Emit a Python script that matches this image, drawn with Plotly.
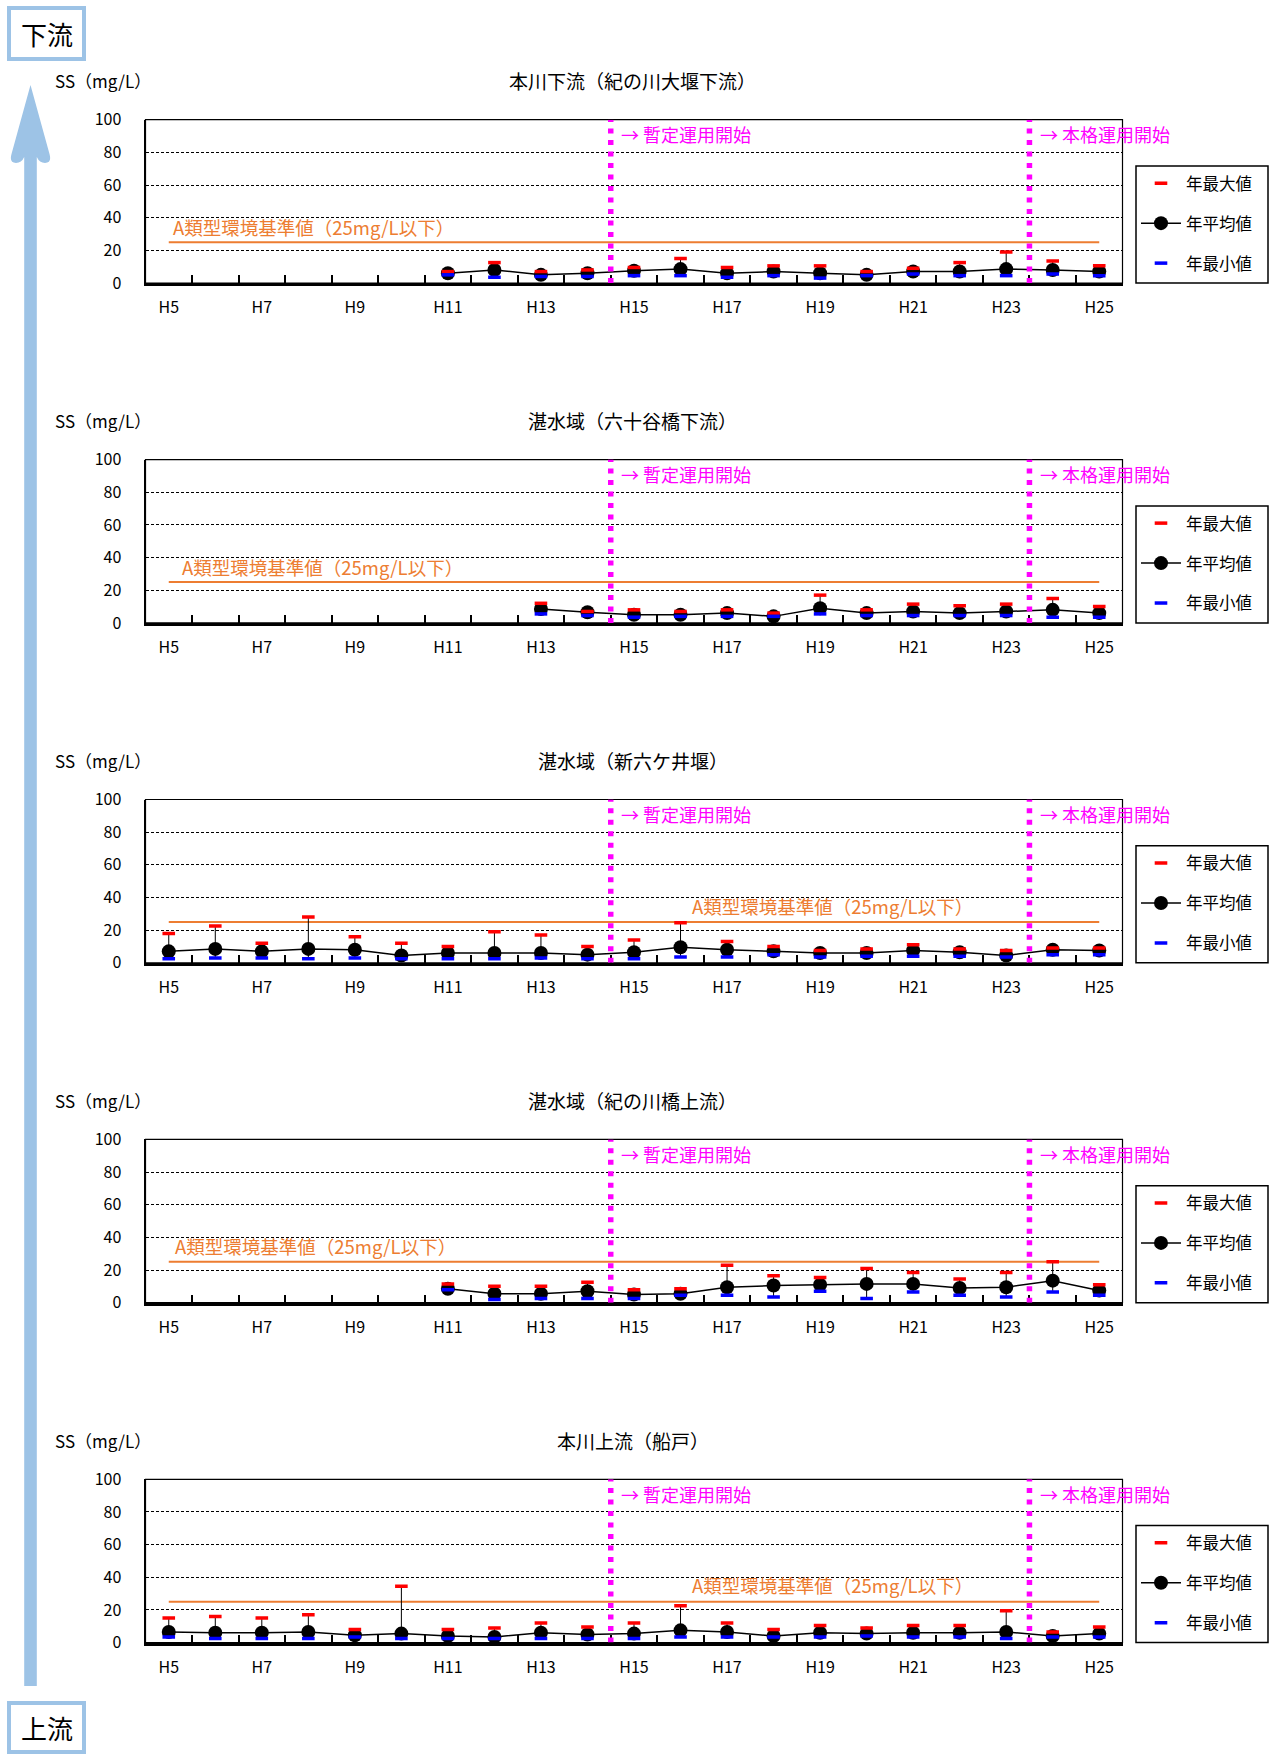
import plotly.graph_objects as go

# ---- data -------------------------------------------------------------
years = ["H5", "H6", "H7", "H8", "H9", "H10", "H11", "H12", "H13", "H14", "H15",
         "H16", "H17", "H18", "H19", "H20", "H21", "H22", "H23", "H24", "H25"]

site_titles = ["本川下流（紀の川大堰下流）", "湛水域（六十谷橋下流）", "湛水域（新六ケ井堰）",
               "湛水域（紀の川橋上流）", "本川上流（船戸）"]

# 本川下流（紀の川大堰下流）
weir_down_max = [None, None, None, None, None, None,
                 7, 12.5, 7, 8, 9.5, 15, 9.5, 10.5, 10.5, 7, 9, 12.5, 19, 13.5, 10.5]
weir_down_mean = [None, None, None, None, None, None,
                  6, 8, 5, 6, 7.5, 8.5, 6, 7, 6, 5, 7, 7, 8.5, 8, 7]
weir_down_min = [None, None, None, None, None, None,
                 5, 3.5, 4, 4, 4.5, 4.5, 3.5, 4.5, 3, 4.5, 5.5, 4.5, 4.5, 5.5, 4.5]

# 湛水域（六十谷橋下流）
musota_max = [None, None, None, None, None, None, None, None,
              12, 7, 8, 7, 8, 6, 17, 8, 11.5, 10.5, 11.5, 15, 10]
musota_mean = [None, None, None, None, None, None, None, None,
               8.5, 6.5, 5, 5, 6, 4, 9, 6, 7, 6, 7, 8, 6]
musota_min = [None, None, None, None, None, None, None, None,
              5.5, 4.5, 3.5, 4, 4, 4, 5.5, 4.5, 4.5, 4.5, 4.5, 3.5, 3.5]

# 湛水域（新六ケ井堰）
rokkai_max = [18, 22.5, 12, 28, 16, 12, 10, 19, 17, 10, 14,
              24.5, 13, 10, 7.5, 8.5, 11, 8.5, 7.5, 9, 9]
rokkai_mean = [7, 8.5, 7, 8.5, 8, 4.5, 6, 6, 6, 5, 6.5,
               9.5, 8, 7, 6, 6, 7.5, 6.5, 4.5, 8, 7.5]
rokkai_min = [2.5, 3, 3, 2.5, 3, 2.5, 2.5, 2.5, 3, 2.5, 2.5,
              3.5, 3.5, 5, 3.5, 4, 4, 4, 3.5, 5, 5]

# 湛水域（紀の川橋上流）
kinokawa_br_max = [None, None, None, None, None, None,
                   11.5, 10, 10, 12.5, 8, 8.5, 23, 16.5, 15.5, 21, 18.5, 14.5, 18.5, 25, 11]
kinokawa_br_mean = [None, None, None, None, None, None,
                    8.5, 5.5, 5.5, 7, 5, 5.5, 9.5, 10.5, 11, 11.5, 11.5, 9, 9.5, 13.5, 7.5]
kinokawa_br_min = [None, None, None, None, None, None,
                   8, 2, 2.5, 2.5, 2.5, 4.5, 4.5, 3.5, 7, 2.5, 6.5, 4.5, 3.5, 6.5, 4.5]

# 本川上流（船戸）
funato_max = [15, 16, 15, 17, 8, 34.5, 8, 9, 12, 9.5, 12,
              22.5, 12, 8, 10.5, 9, 10.5, 10.5, 19.5, 6.5, 9.5]
funato_mean = [6.5, 6, 6, 6.5, 4.5, 5.5, 4, 3.5, 6, 5, 5.5,
               7.5, 6.5, 4, 6, 5.5, 6, 6, 6.5, 4, 5.5]
funato_min = [3.5, 2.5, 2.5, 2.5, 3.5, 2.5, 2.5, 2.5, 2.5, 2.5, 2.5,
              3.5, 3.5, 3.5, 3.5, 4, 3.5, 3.5, 2.5, 3.5, 3.5]

standard_value = 25                 # A類型環境基準値 (mg/L)
standard_label = "A類型環境基準値（25mg/L以下）"
provisional_start = "H15"           # 暫定運用開始
full_start = "H24"                  # 本格運用開始
y_ticks = [0, 20, 40, 60, 80, 100]

series = [
    (weir_down_max, weir_down_mean, weir_down_min),
    (musota_max, musota_mean, musota_min),
    (rokkai_max, rokkai_mean, rokkai_min),
    (kinokawa_br_max, kinokawa_br_mean, kinokawa_br_min),
    (funato_max, funato_mean, funato_min),
]

# ---- layout geometry (pixels) -----------------------------------------
W, H = 1270, 1754
PLOT_L, PLOT_R = 145.5, 1122.5
PANEL_TOP0, PANEL_H, PITCH = 119.7, 163.3, 339.9
LEG_L, LEG_R, LEG_T, LEG_B = 1136, 1268, 166, 283
FONT = "Noto Sans CJK JP"
ORANGE = "#ED7D31"
MAGENTA = "#FF00FF"
LIGHT_BLUE = "#9DC3E6"


def px(x):
    return x / W


def py(y):
    return 1 - y / H


# label placement of the standard-value text for each panel (data coords)
label_pos = [(0.05, 34.5), (0.25, 34.5), (11.2, 34.5), (0.1, 35), (11.2, 35)]

xs = list(range(len(years)))
odd_idx = xs[::2]
boundaries = [i + 0.5 for i in xs[:-1]]
prov_x = years.index(provisional_start) - 0.5
full_x = years.index(full_start) - 0.5

fig = go.Figure()
annotations = []
shapes = []
layout = {}

for k, (title, (vmax, vmean, vmin)) in enumerate(zip(site_titles, series)):
    sfx = "" if k == 0 else str(k + 1)
    xa, ya = "x" + sfx, "y" + sfx
    leg = "legend" + sfx
    top = PANEL_TOP0 + PITCH * k
    bottom = top + PANEL_H

    err_plus = [None if m is None else mx - m for mx, m in zip(vmax, vmean)]
    err_minus = [None if m is None else m - mn for mn, m in zip(vmin, vmean)]

    fig.add_trace(go.Scatter(
        x=xs, y=vmean, mode="lines+markers", name="年平均値",
        line=dict(color="black", width=1.5),
        marker=dict(size=14, color="black"),
        error_y=dict(type="data", symmetric=False, array=err_plus,
                     arrayminus=err_minus, color="black", thickness=1, width=0),
        xaxis=xa, yaxis=ya, legend=leg, legendgroup=f"mean{k}", legendrank=2,
        hoverinfo="skip"))
    fig.add_trace(go.Scatter(
        x=xs, y=vmax, mode="markers", name="年最大値",
        marker=dict(symbol="line-ew", size=9, color="red",
                    line=dict(color="red", width=3.5)),
        xaxis=xa, yaxis=ya, legend=leg, legendgroup=f"max{k}", legendrank=1,
        hoverinfo="skip"))
    fig.add_trace(go.Scatter(
        x=xs, y=vmin, mode="markers", name="年最小値",
        marker=dict(symbol="line-ew", size=9, color="blue",
                    line=dict(color="blue", width=3.5)),
        xaxis=xa, yaxis=ya, legend=leg, legendgroup=f"min{k}", legendrank=3,
        hoverinfo="skip"))

    layout["xaxis" + sfx] = dict(
        domain=[px(PLOT_L), px(PLOT_R)], anchor=ya, automargin=False,
        range=[-0.5, len(years) - 0.5],
        tickmode="array", tickvals=odd_idx, ticktext=years[::2],
        ticks="", showgrid=False, zeroline=False,
        showline=True, linecolor="black", linewidth=2.5,
        ticklabelstandoff=8,
        tickfont=dict(size=16, color="black", family=FONT),
        minor=dict(tickmode="array", tickvals=boundaries, ticks="inside",
                   ticklen=8, tickwidth=1.5, tickcolor="black", showgrid=False),
        fixedrange=True)
    layout["yaxis" + sfx] = dict(
        domain=[py(bottom), py(top)], anchor=xa, automargin=False,
        range=[0, 100], tickmode="array", tickvals=y_ticks,
        ticks="", showgrid=True, gridcolor="black", gridwidth=1,
        griddash="3px,2px", zeroline=False,
        showline=True, linecolor="black", linewidth=2,
        ticklabelstandoff=19,
        tickfont=dict(size=16, color="black", family=FONT),
        fixedrange=True)
    layout[leg] = dict(
        x=px(LEG_L), y=py(LEG_T + PITCH * k), xanchor="left", yanchor="top",
        borderwidth=0, bgcolor="rgba(0,0,0,0)",
        font=dict(size=16.5, color="black", family=FONT),
        traceorder="grouped", tracegroupgap=15.5, itemwidth=40)

    # legend frame
    shapes.append(dict(type="rect", xref="paper", yref="paper",
                       x0=px(LEG_L), x1=px(LEG_R),
                       y0=py(LEG_B + PITCH * k), y1=py(LEG_T + PITCH * k),
                       line=dict(color="black", width=1.5), fillcolor="white",
                       layer="below"))
    # plot frame
    shapes.append(dict(type="rect", xref=xa + " domain", yref=ya + " domain",
                       x0=0, x1=1, y0=0, y1=1, line=dict(color="black", width=1.2),
                       layer="above"))
    # environmental standard line
    shapes.append(dict(type="line", xref=xa, yref=ya, x0=xs[0], x1=xs[-1],
                       y0=standard_value, y1=standard_value,
                       line=dict(color=ORANGE, width=2), layer="below"))
    # operation milestones
    for bx in (prov_x, full_x):
        shapes.append(dict(type="line", xref=xa, yref=ya, x0=bx, x1=bx,
                           y0=0, y1=100,
                           line=dict(color=MAGENTA, width=5.5, dash="5px,6.5px"),
                           layer="above"))
    annotations.append(dict(xref=xa, yref=ya, x=prov_x + 0.18, y=91,
                            text="→ 暫定運用開始", showarrow=False,
                            xanchor="left", yanchor="middle",
                            font=dict(size=18, color=MAGENTA, family=FONT)))
    annotations.append(dict(xref=xa, yref=ya, x=full_x + 0.18, y=91,
                            text="→ 本格運用開始", showarrow=False,
                            xanchor="left", yanchor="middle",
                            font=dict(size=18, color=MAGENTA, family=FONT)))
    lx, ly = label_pos[k]
    annotations.append(dict(xref=xa, yref=ya, x=lx, y=ly, text=standard_label,
                            showarrow=False, xanchor="left", yanchor="middle",
                            font=dict(size=18.5, color=ORANGE, family=FONT)))
    # panel title and unit
    annotations.append(dict(xref="paper", yref="paper", x=px(632.5),
                            y=py(80.6 + PITCH * k), text=title, showarrow=False,
                            xanchor="center", yanchor="middle",
                            font=dict(size=19, color="black", family=FONT)))
    annotations.append(dict(xref="paper", yref="paper", x=px(52.7),
                            y=py(80.6 + PITCH * k), text="SS（mg/L）",
                            showarrow=False, xanchor="left", yanchor="middle",
                            font=dict(size=17, color="black", family=FONT)))


# upstream -> downstream arrow on the left
def path(points):
    cmds = []
    for p in points:
        if p[0] == "M" or p[0] == "L":
            cmds.append(f"{p[0]} {px(p[1]):.5f},{py(p[2]):.5f}")
        elif p[0] == "Q":
            cmds.append(f"Q {px(p[1]):.5f},{py(p[2]):.5f} {px(p[3]):.5f},{py(p[4]):.5f}")
        else:
            cmds.append("Z")
    return " ".join(cmds)


arrow = path([
    ("M", 30.5, 85), ("L", 49.5, 154), ("Q", 52, 163, 45, 163),
    ("Q", 39.5, 163, 36.8, 157), ("L", 36.8, 1686), ("L", 24.2, 1686),
    ("L", 24.2, 157), ("Q", 21.5, 163, 16, 163), ("Q", 9, 163, 11.5, 154), ("Z",)])
shapes.append(dict(type="path", xref="paper", yref="paper", path=arrow,
                   fillcolor=LIGHT_BLUE, line=dict(width=0), layer="above"))

for (y0, y1, label) in ((8, 59, "下流"), (1703, 1752, "上流")):
    shapes.append(dict(type="rect", xref="paper", yref="paper",
                       x0=px(9), x1=px(84), y0=py(y1), y1=py(y0),
                       fillcolor="white", line=dict(color=LIGHT_BLUE, width=4),
                       layer="above"))
    annotations.append(dict(xref="paper", yref="paper", x=px(46.5),
                            y=py((y0 + y1) / 2), text=label, showarrow=False,
                            xanchor="center", yanchor="middle",
                            font=dict(size=26, color="black", family=FONT)))

fig.update_layout(
    width=W, height=H,
    margin=dict(l=0, r=0, t=0, b=0, pad=0, autoexpand=False),
    paper_bgcolor="white", plot_bgcolor="white",
    font=dict(family=FONT, color="black"),
    showlegend=True, annotations=annotations, shapes=shapes,
    **layout)

fig.write_html("out.html")
